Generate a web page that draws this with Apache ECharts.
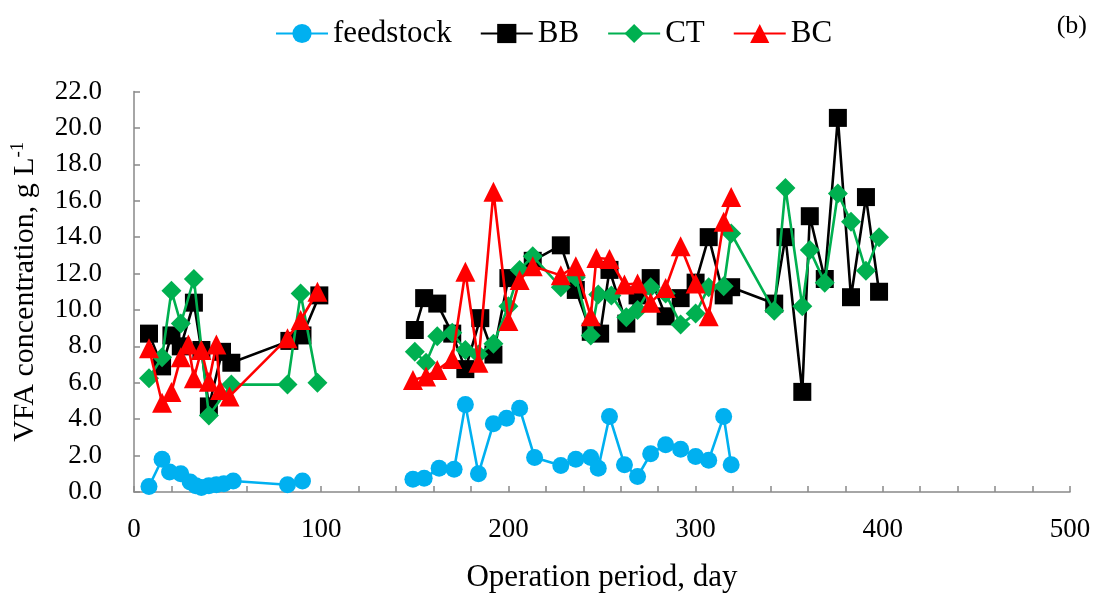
<!DOCTYPE html>
<html>
<head>
<meta charset="utf-8">
<script src="https://cdn.jsdelivr.net/npm/echarts@6/dist/echarts.min.js"></script>
<style>
  html, body { margin: 0; padding: 0; background: #fff; }
  #chart { width: 1100px; height: 596px; }
</style>
</head>
<body>
<div id="chart"></div>
<script>
// Operation day of each sample; null marks the break between the two runs
const feedDays = [8, 15, 19, 25, 30, 33, 36, 40, 44, 48, 53, 82, 90, null,
  149, 155, 163, 171, 177, 184, 192, 199, 206, 214, 228, 236, 244, 248, 254, 262, 269, 276, 284, 292, 300, 307, 315, 319];
const feedVfa = [0.3, 1.8, 1.1, 1.0, 0.55, 0.35, 0.25, 0.35, 0.4, 0.45, 0.6, 0.4, 0.6, null,
  0.7, 0.75, 1.3, 1.25, 4.8, 1.0, 3.75, 4.05, 4.6, 1.9, 1.45, 1.8, 1.9, 1.3, 4.15, 1.5, 0.85, 2.1, 2.6, 2.35, 1.95, 1.75, 4.15, 1.5];

const bbDays = [8, 15, 20, 25, 32, 36, 40, 47, 52, 83, 90, 99, null,
  150, 155, 162, 170, 177, 185, 192, 200, 213, 228, 236, 244, 249, 254, 263, 269, 276, 284, 292, 300, 307, 315, 319,
  342, 348, 357, 361, 369, 376, 383, 391, 398];
const bbVfa = [8.7, 6.9, 8.6, 8.0, 10.4, 7.8, 4.7, 7.7, 7.1, 8.3, 8.6, 10.8, null,
  8.9, 10.65, 10.35, 8.7, 6.75, 9.55, 7.55, 11.75, 12.7, 13.55, 11.1, 8.8, 8.7, 12.2, 9.25, 10.8, 11.75, 9.65, 10.65, 11.5, 14.0, 10.8, 11.25,
  10.35, 14.0, 5.5, 15.15, 11.7, 20.55, 10.7, 16.2, 11.0];

const ctDays = [8, 15, 20, 25, 32, 40, 52, 82, 89, 98, null,
  150, 156, 162, 170, 177, 184, 192, 200, 206, 213, 228, 236, 244, 248, 255, 263, 269, 276, 284, 292, 300, 307, 315, 319,
  342, 348, 357, 361, 369, 376, 383, 391, 398];
const ctVfa = [6.25, 7.4, 11.05, 9.25, 11.7, 4.2, 5.9, 5.9, 10.9, 6.0, null,
  7.7, 7.1, 8.55, 8.75, 7.8, 7.55, 8.15, 10.2, 12.2, 12.95, 11.25, 11.8, 8.6, 10.85, 10.8, 9.6, 10.0, 11.25, 10.9, 9.2, 9.8, 11.25, 11.3, 14.2,
  9.95, 16.7, 10.2, 13.3, 11.5, 16.4, 14.85, 12.15, 14.0];

const bcDays = [8, 15, 20, 25, 29, 32, 36, 40, 44, 46, 51, 82, 89, 98, null,
  149, 156, 162, 170, 177, 184, 192, 200, 206, 213, 228, 236, 244, 247, 254, 262, 269, 276, 284, 292, 300, 307, 315, 319];
const bcVfa = [7.9, 4.9, 5.5, 7.4, 8.1, 6.25, 7.8, 6.05, 8.1, 5.6, 5.25, 8.45, 9.45, 11.0, null,
  6.15, 6.35, 6.7, 7.3, 12.1, 7.1, 16.5, 9.4, 11.65, 12.4, 11.9, 12.4, 9.65, 12.85, 12.8, 11.4, 11.45, 10.4, 11.2, 13.5, 11.45, 9.65, 14.85, 16.2];

const seriesNames = ['feedstock', 'BB', 'CT', 'BC'];
const xTicks = [0, 100, 200, 300, 400, 500];

function pairs(days, vals) {
  return days.map((d, i) => (d === null ? ['-', '-'] : [d, vals[i]]));
}

const serif = '"Liberation Serif", "Times New Roman", serif';
const axisGray = '#898989';

const styles = [
  { color: '#00B0F0', symbol: 'circle', size: 17 },
  { color: '#000000', symbol: 'rect', size: 18 },
  { color: '#00B050', symbol: 'diamond', size: 20 },
  { color: '#FF0000', symbol: 'triangle', size: 20 }
];
const dataSets = [
  pairs(feedDays, feedVfa),
  pairs(bbDays, bbVfa),
  pairs(ctDays, ctVfa),
  pairs(bcDays, bcVfa)
];

const chart = echarts.init(document.getElementById('chart'), null, { renderer: 'canvas' });

chart.setOption({
  animation: false,
  backgroundColor: '#ffffff',
  title: {
    text: '(b)',
    right: 8,
    top: 8,
    textStyle: { fontFamily: serif, fontSize: 26, fontWeight: 'normal', color: '#000' }
  },
  legend: {
    data: seriesNames,
    left: 270,
    top: 13,
    itemWidth: 52,
    itemHeight: 24,
    itemGap: 28,
    textStyle: { fontFamily: serif, fontSize: 31, color: '#000' }
  },
  grid: { left: 134, right: 30, top: 91.5, bottom: 104, containLabel: false, outerBoundsMode: 'none' },
  xAxis: {
    type: 'value',
    min: 0,
    max: 500,
    interval: 20,
    name: 'Operation period, day',
    nameLocation: 'middle',
    nameGap: 70,
    nameTextStyle: { fontFamily: serif, fontSize: 31, color: '#000' },
    axisLine: { lineStyle: { color: axisGray, width: 1.5 } },
    axisTick: { inside: true, length: 6, lineStyle: { color: axisGray, width: 1.5 } },
    axisLabel: {
      margin: 24,
      fontFamily: serif,
      fontSize: 27,
      color: '#000',
      formatter: v => (xTicks.indexOf(v) >= 0 ? String(v) : '')
    },
    splitLine: { show: false }
  },
  yAxis: {
    type: 'value',
    min: 0,
    max: 22,
    interval: 2,
    name: 'VFA concentration, g L{sup|-1}',
    nameLocation: 'middle',
    nameGap: 92,
    nameRotate: 90,
    nameTextStyle: {
      fontFamily: serif,
      fontSize: 30,
      color: '#000',
      rich: {
        sup: { fontFamily: serif, fontSize: 19, color: '#000', verticalAlign: 'top', padding: [0, 0, 14, 0] }
      }
    },
    axisLine: { show: true, lineStyle: { color: axisGray, width: 1.5 } },
    axisTick: { show: true, inside: true, length: 6, lineStyle: { color: axisGray, width: 1.5 } },
    axisLabel: {
      margin: 32,
      fontFamily: serif,
      fontSize: 27,
      color: '#000',
      formatter: v => v.toFixed(1)
    },
    splitLine: { show: false }
  },
  series: seriesNames.map((name, k) => ({
    name: name,
    type: 'line',
    data: dataSets[k],
    connectNulls: false,
    symbol: styles[k].symbol,
    symbolSize: styles[k].size,
    showAllSymbol: true,
    itemStyle: { color: styles[k].color },
    lineStyle: { color: styles[k].color, width: 2.6 },
    z: 2 + k
  }))
});
</script>
</body>
</html>
